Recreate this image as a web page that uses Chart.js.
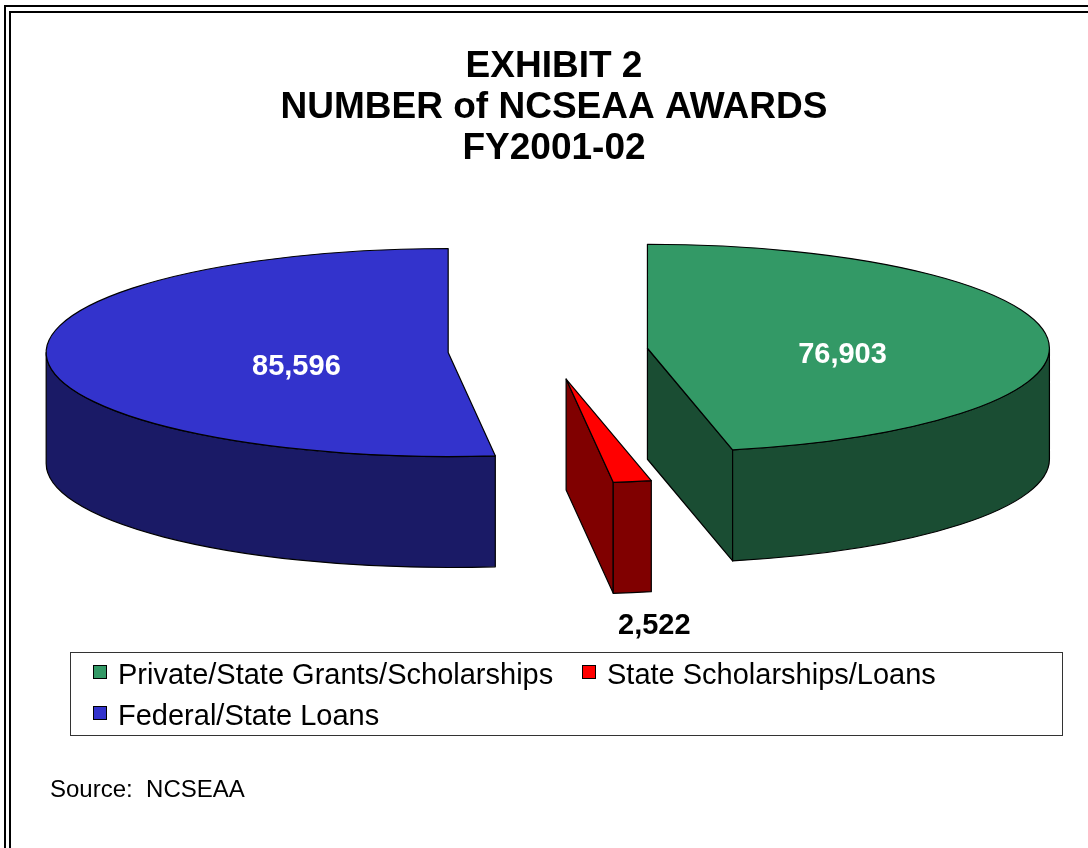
<!DOCTYPE html>
<html>
<head>
<meta charset="utf-8">
<script src="https://cdn.jsdelivr.net/npm/chart.js@4.4.1/dist/chart.umd.min.js"></script>
<style>
  html, body { margin: 0; padding: 0; background: #fff; }
  body { width: 1088px; height: 848px; position: relative; overflow: hidden;
         font-family: "Liberation Sans", Arial, sans-serif; }
  .frame { position: absolute; width: 1300px; height: 1100px;
           border-left: 2px solid #000; border-top: 2px solid #000; }
  .frame.outer { left: 4px; top: 5px; }
  .frame.inner { left: 9px; top: 11px; }
  #chart { position: absolute; left: 0; top: 0; }
  #legend { position: absolute; left: 70px; top: 652px; width: 993px; height: 84px;
            border: 1px solid #333; box-sizing: border-box; padding: 1px 0 0 22px;
            display: grid; grid-template-columns: 489px auto; }
  .item { display: flex; align-items: flex-start; height: 40px; line-height: 40px;
          font-size: 29px; color: #000; white-space: nowrap; }
  .item .box { width: 14px; height: 14px; box-sizing: border-box; border: 1px solid #000;
               margin-top: 11px; margin-right: 11px; }
  #source { position: absolute; left: 50px; top: 775px; font-size: 24px; white-space: pre; }
</style>
</head>
<body>
<div class="frame outer"></div>
<div class="frame inner"></div>
<canvas id="chart" width="1088" height="848"></canvas>
<div id="legend"></div>
<div id="source">Source:  NCSEAA</div>
<script>
// chart data
const titleLines = ["EXHIBIT 2", "NUMBER of NCSEAA AWARDS", "FY2001-02"];
const categories = ["Private/State Grants/Scholarships", "State Scholarships/Loans", "Federal/State Loans"];
const awards = [76903, 2522, 85596];
const sliceColors = ["#339966", "#FF0000", "#3333CC"];

Chart.defaults.font.family = "'Liberation Sans', Arial, sans-serif";

// 3D look of the pie (ellipse, tilt and thickness)
const CX = 548, CY = 351, RX = 402, TILT = 0.2587, DEPTH = 111;

function darker(hex) {
  const n = parseInt(hex.slice(1), 16);
  const r = (n >> 16) & 255, g = (n >> 8) & 255, b = n & 255;
  return "rgb(" + Math.round(r / 2) + "," + Math.round(g / 2) + "," + Math.round(b / 2) + ")";
}

function sliceGeom(arc) {
  const a1 = arc.startAngle, a2 = arc.endAngle, mid = (a1 + a2) / 2;
  const off = arc.options.offset || 0;
  return {
    a1: a1, a2: a2, mid: mid,
    ax: CX + off * Math.cos(mid),
    ay: CY + off * Math.sin(mid) * TILT
  };
}

const pie3d = {
  id: "pie3d",
  beforeDatasetDraw(chart, args) {
    const ctx = chart.ctx;
    const ry = RX * TILT;
    ctx.save();
    ctx.lineWidth = 1.2;
    ctx.strokeStyle = "#000";
    ctx.lineJoin = "round";
    args.meta.data.forEach(function (arc) {
      const g = sliceGeom(arc);
      const ex = function (a) { return g.ax + RX * Math.cos(a); };
      const ey = function (a) { return g.ay + ry * Math.sin(a); };
      const top = arc.options.backgroundColor;
      ctx.fillStyle = darker(top);
      // cut faces turned to the viewer
      [[g.a2, Math.cos(g.a2) > 0.001], [g.a1, Math.cos(g.a1) < -0.001]].forEach(function (f) {
        if (!f[1]) return;
        const a = f[0];
        ctx.beginPath();
        ctx.moveTo(g.ax, g.ay);
        ctx.lineTo(ex(a), ey(a));
        ctx.lineTo(ex(a), ey(a) + DEPTH);
        ctx.lineTo(g.ax, g.ay + DEPTH);
        ctx.closePath();
        ctx.fill();
        ctx.stroke();
      });
      // outer wall, front half only
      const s = Math.max(g.a1, 0), e = Math.min(g.a2, Math.PI);
      if (e > s) {
        ctx.beginPath();
        ctx.ellipse(g.ax, g.ay, RX, ry, 0, s, e);
        ctx.lineTo(ex(e), ey(e) + DEPTH);
        ctx.ellipse(g.ax, g.ay + DEPTH, RX, ry, 0, e, s, true);
        ctx.closePath();
        ctx.fill();
        ctx.stroke();
      }
      // top face
      ctx.fillStyle = top;
      ctx.beginPath();
      ctx.moveTo(g.ax, g.ay);
      ctx.ellipse(g.ax, g.ay, RX, ry, 0, g.a1, g.a2);
      ctx.closePath();
      ctx.fill();
      ctx.stroke();
    });
    ctx.restore();
    return false;
  },
  afterDraw(chart) {
    const ctx = chart.ctx;
    const ry = RX * TILT;
    const data = chart.data.datasets[0].data;
    const total = data.reduce(function (a, b) { return a + b; }, 0);
    ctx.save();
    ctx.font = "bold 29px 'Liberation Sans', Arial, sans-serif";
    ctx.textAlign = "center";
    ctx.textBaseline = "middle";
    chart.getDatasetMeta(0).data.forEach(function (arc, i) {
      const g = sliceGeom(arc);
      const txt = data[i].toLocaleString("en-US");
      let x, y;
      if (data[i] / total > 0.05) {
        x = g.ax + 0.433 * RX * Math.cos(g.mid) + 22;
        y = g.ay + 0.433 * ry * Math.sin(g.mid) + 12;
        ctx.fillStyle = "#fff";
      } else {
        x = g.ax + RX * Math.cos(g.mid) + 22;
        y = g.ay + ry * Math.sin(g.mid) + DEPTH + 33;
        ctx.fillStyle = "#000";
      }
      ctx.fillText(txt, x, y);
    });
    ctx.restore();
  }
};

const htmlLegend = {
  id: "htmlLegend",
  afterUpdate(chart) {
    const box = document.getElementById("legend");
    box.innerHTML = "";
    const items = chart.options.plugins.legend.labels.generateLabels(chart);
    items.forEach(function (item) {
      const el = document.createElement("div");
      el.className = "item";
      const sw = document.createElement("span");
      sw.className = "box";
      sw.style.background = item.fillStyle;
      const tx = document.createElement("span");
      tx.textContent = item.text;
      el.appendChild(sw);
      el.appendChild(tx);
      box.appendChild(el);
    });
  }
};

new Chart(document.getElementById("chart"), {
  type: "pie",
  data: {
    labels: categories,
    datasets: [{
      data: awards,
      backgroundColor: sliceColors,
      borderColor: "#000",
      borderWidth: 1,
      offset: [100, 110, 100]
    }]
  },
  options: {
    responsive: false,
    animation: false,
    devicePixelRatio: 1,
    layout: { padding: { left: 20 } },
    plugins: {
      legend: { display: false },
      tooltip: { enabled: false },
      title: {
        display: true,
        text: titleLines,
        color: "#000",
        font: { size: 37, weight: "bold", lineHeight: 41 / 37 },
        padding: { top: 46.5, bottom: 20 }
      }
    }
  },
  plugins: [pie3d, htmlLegend]
});
</script>
</body>
</html>
